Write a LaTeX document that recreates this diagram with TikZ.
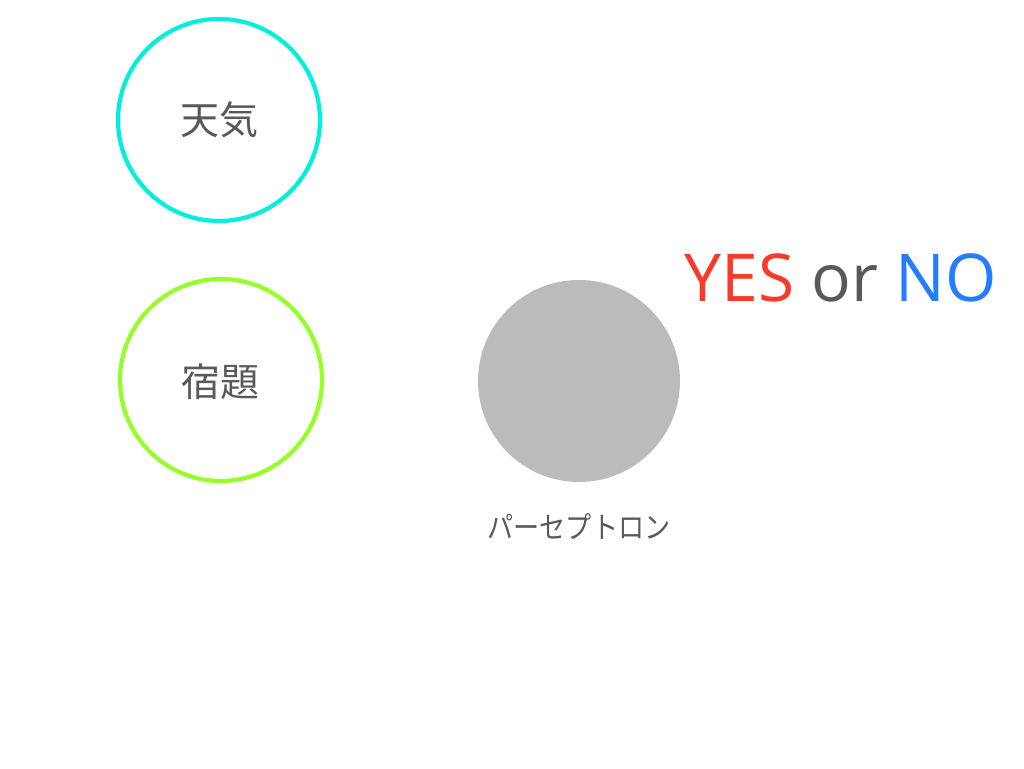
\documentclass[tikz,border=0pt]{standalone}
\usepackage{fontspec}
\setmainfont{Open Sans}
\newfontfamily\jpfont{Noto Sans CJK JP}
\definecolor{cyanring}{RGB}{0,240,222}
\definecolor{greenring}{RGB}{150,255,40}
\definecolor{perc}{RGB}{187,187,187}
\definecolor{txt}{RGB}{89,89,89}
\definecolor{yesred}{RGB}{248,58,42}
\definecolor{noblue}{RGB}{36,124,255}
\begin{document}
\begin{tikzpicture}[x=1pt,y=1pt,
  ring/.style={circle,minimum size=202pt,inner sep=0pt,line width=4.2pt},
  jp/.style={font=\jpfont\fontsize{39}{44}\selectfont,text=txt}]
\useasboundingbox (0,0) rectangle (1024,768);
\node[ring,draw=cyanring] (weather) at (219,648) {};
\node[jp] (weatherlbl) at (219,648) {天気};
\node[ring,draw=greenring] (homework) at (221,388) {};
\node[jp] (homeworklbl) at (220,386) {宿題};
\node[circle,minimum size=202pt,inner sep=0pt,fill=perc] (perceptron) at (579,387) {};
\node[font=\jpfont\fontsize{30}{34}\selectfont,text=txt,xscale=0.87] (perclbl) at (579,241) {パーセプトロン};
\node[anchor=base,font=\fontsize{66}{70}\selectfont,inner sep=0pt] (answer) at (841,466) {\textcolor{yesred}{YES} \textcolor{txt}{or} \textcolor{noblue}{NO}};
\end{tikzpicture}
\end{document}
